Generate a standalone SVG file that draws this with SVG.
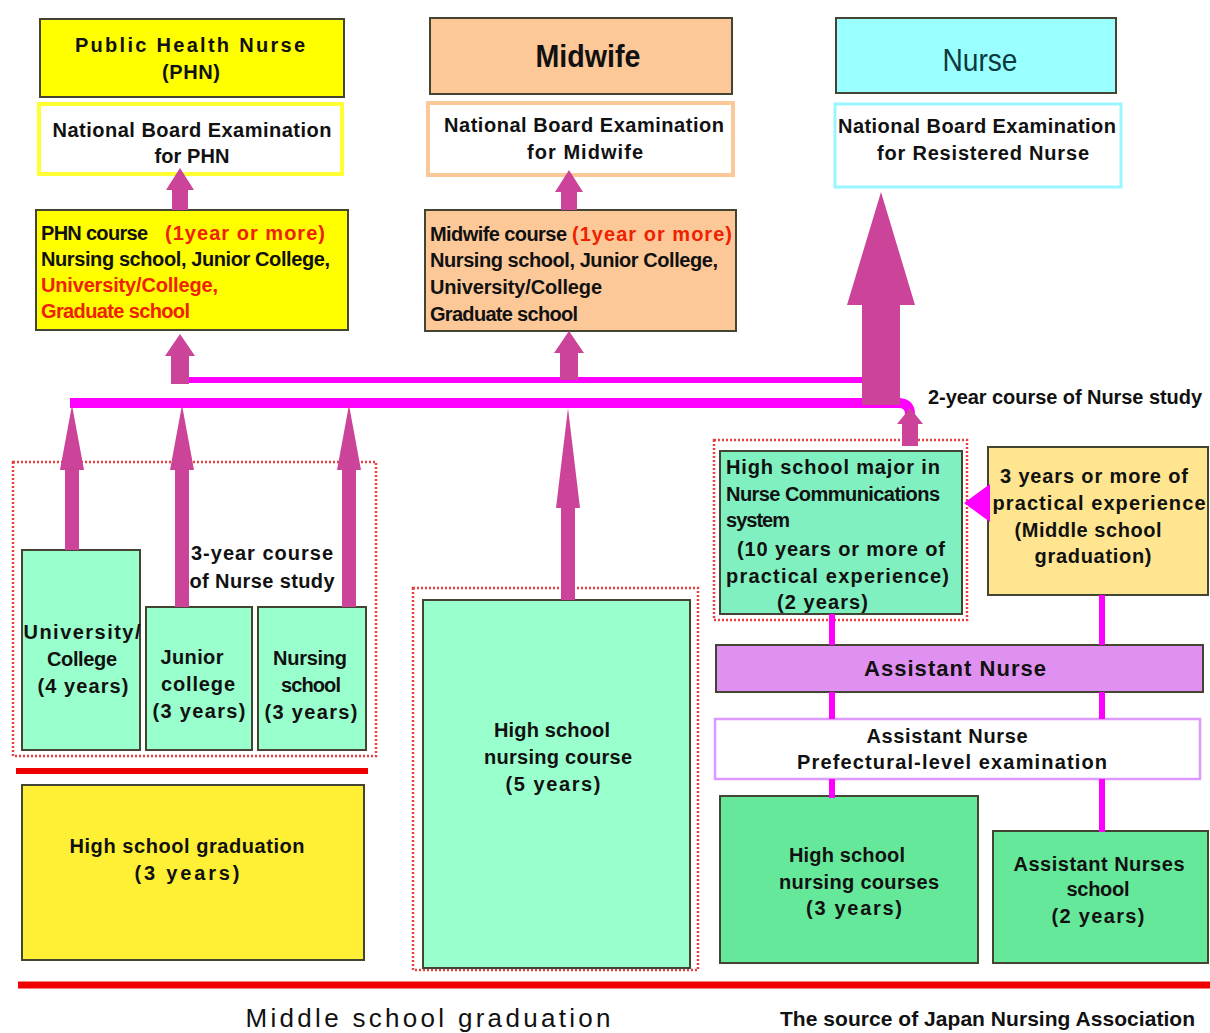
<svg xmlns="http://www.w3.org/2000/svg" width="1210" height="1033" viewBox="0 0 1210 1033">
<style>
text{font-family:"Liberation Sans",Arial,sans-serif;font-weight:bold;fill:#111;font-size:20px}
.c{text-anchor:middle}
.red{fill:#ee2200}
.box{stroke:#444433;stroke-width:2}
.dot{fill:none;stroke:#e84040;stroke-width:2.5;stroke-dasharray:2 2}
.arr{fill:#cc4499}
.mag{stroke:#ff00ff;fill:none}
.big{font-size:32px}
</style>
<rect width="1210" height="1033" fill="#ffffff"/>

<g id="phn">
<rect class="box" x="40" y="19" width="304" height="78" fill="#ffff00"/>
<text class="c" x="190" y="52" textLength="230" lengthAdjust="spacing">Public Health Nurse</text>
<text class="c" x="191" y="79" textLength="58" lengthAdjust="spacing">(PHN)</text>
</g>
<g id="phn-exam">
<rect x="39" y="104" width="303" height="70" fill="#fff" stroke="#ffff33" stroke-width="4"/>
<text class="c" x="192" y="137" textLength="279" lengthAdjust="spacing">National Board Examination</text>
<text class="c" x="192" y="163" textLength="75" lengthAdjust="spacing">for PHN</text>
</g>
<g id="phn-course">
<rect class="box" x="36" y="210" width="312" height="120" fill="#ffff00"/>
<text x="41" y="240" textLength="107" lengthAdjust="spacing">PHN course</text>
<text class="red" x="165" y="240" textLength="160" lengthAdjust="spacing">(1year or more)</text>
<text x="41" y="266" textLength="289" lengthAdjust="spacing">Nursing school, Junior College,</text>
<text class="red" x="41" y="292" textLength="177" lengthAdjust="spacing">University/College,</text>
<text class="red" x="41" y="318" textLength="149" lengthAdjust="spacing">Graduate school</text>
</g>

<g id="midwife">
<rect class="box" x="430" y="18" width="302" height="76" fill="#fdc898"/>
<text class="c big" x="588" y="67" textLength="105" lengthAdjust="spacingAndGlyphs">Midwife</text>
</g>
<g id="midwife-exam">
<rect x="428" y="103" width="305" height="72" fill="#fff" stroke="#fdc898" stroke-width="4"/>
<text class="c" x="584" y="132" textLength="280" lengthAdjust="spacing">National Board Examination</text>
<text class="c" x="585" y="159" textLength="116" lengthAdjust="spacing">for Midwife</text>
</g>
<g id="midwife-course">
<rect class="box" x="425" y="210" width="311" height="121" fill="#fdc898"/>
<text x="430" y="241" textLength="137" lengthAdjust="spacing">Midwife course</text>
<text class="red" x="572" y="241" textLength="160" lengthAdjust="spacing">(1year or more)</text>
<text x="430" y="267" textLength="288" lengthAdjust="spacing">Nursing school, Junior College,</text>
<text x="430" y="294" textLength="172" lengthAdjust="spacing">University/College</text>
<text x="430" y="321" textLength="148" lengthAdjust="spacing">Graduate school</text>
</g>

<g id="nurse">
<rect class="box" x="836" y="18" width="280" height="75" fill="#99ffff"/>
<text class="c big" x="980" y="71" textLength="75" lengthAdjust="spacingAndGlyphs" style="fill:#0a3a40;font-weight:normal">Nurse</text>
</g>
<g id="nurse-exam">
<rect x="835" y="104" width="286" height="83" fill="#fff" stroke="#99f5ff" stroke-width="3"/>
<text class="c" x="977" y="133" textLength="278" lengthAdjust="spacing">National Board Examination</text>
<text class="c" x="983" y="160" textLength="212" lengthAdjust="spacing">for Resistered Nurse</text>
</g>

<g id="label-2year">
<text x="928" y="404" textLength="274" lengthAdjust="spacing">2-year course of Nurse study</text>
</g>

<g id="group-3year">
<rect class="dot" x="13" y="462" width="363" height="294"/>
<text class="c" x="262" y="560" textLength="142" lengthAdjust="spacing">3-year course</text>
<text class="c" x="262" y="588" textLength="145" lengthAdjust="spacing">of Nurse study</text>
</g>
<g id="university">
<rect class="box" x="22" y="550" width="118" height="200" fill="#99ffcc"/>
<text class="c" x="82" y="639" textLength="117" lengthAdjust="spacing">University/</text>
<text class="c" x="82" y="666" textLength="70" lengthAdjust="spacing">College</text>
<text class="c" x="83" y="693" textLength="91" lengthAdjust="spacing">(4 years)</text>
</g>
<g id="junior">
<rect class="box" x="146" y="607" width="106" height="143" fill="#99ffcc"/>
<text class="c" x="192" y="664" textLength="63" lengthAdjust="spacing">Junior</text>
<text class="c" x="198" y="691" textLength="74" lengthAdjust="spacing">college</text>
<text class="c" x="199" y="718" textLength="93" lengthAdjust="spacing">(3 years)</text>
</g>
<g id="nursing-school">
<rect class="box" x="258" y="607" width="108" height="143" fill="#99ffcc"/>
<text class="c" x="310" y="665" textLength="74" lengthAdjust="spacing">Nursing</text>
<text class="c" x="311" y="692" textLength="60" lengthAdjust="spacing">school</text>
<text class="c" x="311" y="719" textLength="93" lengthAdjust="spacing">(3 years)</text>
</g>
<g id="hs-graduation">
<rect class="box" x="22" y="785" width="342" height="175" fill="#fff035"/>
<text class="c" x="187" y="853" textLength="235" lengthAdjust="spacing">High school graduation</text>
<text class="c" x="187" y="880" textLength="105" lengthAdjust="spacing">(3 years)</text>
</g>

<g id="hs-nursing-5">
<rect class="dot" x="413" y="588" width="285" height="382"/>
<rect class="box" x="423" y="600" width="267" height="368" fill="#99ffcc"/>
<text class="c" x="552" y="737" textLength="116" lengthAdjust="spacing">High school</text>
<text class="c" x="558" y="764" textLength="148" lengthAdjust="spacing">nursing course</text>
<text class="c" x="553" y="791" textLength="95" lengthAdjust="spacing">(5 years)</text>
</g>

<g id="hs-major">
<rect class="dot" x="714" y="440" width="253" height="180"/>
<rect class="box" x="720" y="451" width="242" height="163" fill="#80f0c0"/>
<text x="726" y="474" textLength="214" lengthAdjust="spacing">High school major in</text>
<text x="726" y="501" textLength="214" lengthAdjust="spacing">Nurse Communications</text>
<text x="726" y="527" textLength="64" lengthAdjust="spacing">system</text>
<text x="737" y="556" textLength="208" lengthAdjust="spacing">(10 years or more of</text>
<text x="726" y="583" textLength="223" lengthAdjust="spacing">practical experience)</text>
<text x="777" y="609" textLength="91" lengthAdjust="spacing">(2 years)</text>
</g>

<g id="experience">
<rect class="box" x="988" y="447" width="220" height="148" fill="#ffe58f"/>
<text class="c" x="1094" y="483" textLength="188" lengthAdjust="spacing">3 years or more of</text>
<text class="c" x="1099" y="510" textLength="213" lengthAdjust="spacing">practical experience</text>
<text class="c" x="1088" y="537" textLength="147" lengthAdjust="spacing">(Middle school</text>
<text class="c" x="1093" y="563" textLength="117" lengthAdjust="spacing">graduation)</text>
</g>

<g id="assistant-nurse">
<rect class="box" x="716" y="645" width="487" height="47" fill="#e090f0"/>
<text class="c" x="955" y="676" textLength="182" lengthAdjust="spacing" style="font-size:22px">Assistant Nurse</text>
</g>
<g id="assistant-exam">
<rect x="715" y="719" width="485" height="60" fill="#fff" stroke="#dd99ff" stroke-width="2.5"/>
<text class="c" x="947" y="743" textLength="161" lengthAdjust="spacing">Assistant Nurse</text>
<text class="c" x="952" y="769" textLength="310" lengthAdjust="spacing">Prefectural-level examination</text>
</g>
<g id="hs-nursing-3">
<rect class="box" x="720" y="796" width="258" height="167" fill="#66e89a"/>
<text class="c" x="847" y="862" textLength="116" lengthAdjust="spacing">High school</text>
<text class="c" x="859" y="889" textLength="160" lengthAdjust="spacing">nursing courses</text>
<text class="c" x="854" y="915" textLength="96" lengthAdjust="spacing">(3 years)</text>
</g>
<g id="assistant-school">
<rect class="box" x="993" y="831" width="215" height="132" fill="#66e89a"/>
<text class="c" x="1099" y="871" textLength="171" lengthAdjust="spacing">Assistant Nurses</text>
<text class="c" x="1098" y="896" textLength="63" lengthAdjust="spacing">school</text>
<text class="c" x="1098" y="923" textLength="93" lengthAdjust="spacing">(2 years)</text>
</g>

<g id="footer">
<line x1="16" y1="771" x2="368" y2="771" stroke="#ee0000" stroke-width="6"/>
<line x1="18" y1="985" x2="1210" y2="985" stroke="#ee0000" stroke-width="7"/>
<text class="c" x="428" y="1027" textLength="365" lengthAdjust="spacing" style="font-size:26px;font-weight:normal">Middle school graduation</text>
<text x="780" y="1026" textLength="415" lengthAdjust="spacing" style="font-size:21px">The source of Japan Nursing Association</text>
</g>

<g id="connectors">
<path class="mag" stroke-width="6" d="M175 380 H862"/>
<path class="mag" stroke-width="10" d="M70 403 H898 Q910 403 910 414"/>
<path class="mag" stroke-width="6" d="M832 614 V645 M832 692 V719 M832 779 V798 M1102 595 V645 M1102 692 V719 M1102 779 V832"/>
<path class="arr" d="M180 168 L194 190 L188 190 L188 210 L172 210 L172 190 L166 190 Z"/>
<path class="arr" d="M569 170 L583 192 L577 192 L577 210 L561 210 L561 192 L555 192 Z"/>
<path class="arr" d="M180 334 L195 356 L189 356 L189 384 L171 384 L171 356 L165 356 Z"/>
<path class="arr" d="M569 331 L584 353 L578 353 L578 380 L560 380 L560 353 L554 353 Z"/>
<path class="arr" d="M881 192 L915 305 L900 305 L900 405 L862 405 L862 305 L847 305 Z"/>
<path class="arr" d="M72 405 L84 470 L79 470 L79 550 L65 550 L65 470 L60 470 Z"/>
<path class="arr" d="M182 405 L194 470 L189 470 L189 607 L175 607 L175 470 L170 470 Z"/>
<path class="arr" d="M349 405 L361 470 L356 470 L356 607 L342 607 L342 470 L337 470 Z"/>
<path class="arr" d="M568 408 L580 508 L575 508 L575 600 L561 600 L561 508 L556 508 Z"/>
<path class="arr" d="M910 408 L923 424 L918 424 L918 446 L902 446 L902 424 L897 424 Z"/>
<path d="M964 503 L990 484 L990 522 Z" fill="#ff00ff"/>
</g>
</svg>
